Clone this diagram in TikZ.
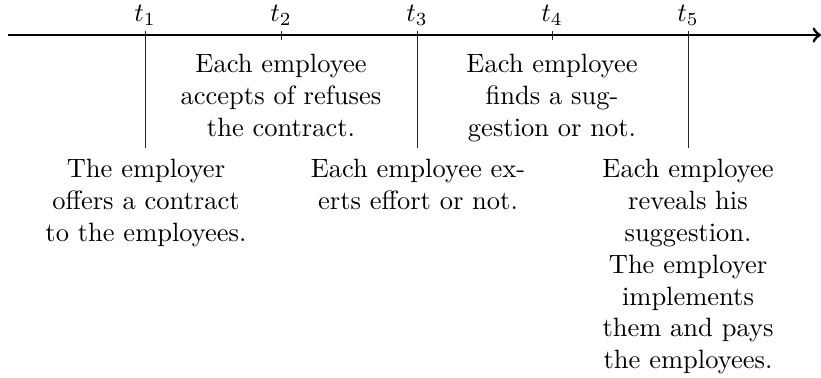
\documentclass[tikz,border=0pt]{standalone}
\begin{document}
\begin{tikzpicture}[x=0.3774pt,y=-0.3774pt,
  axisline/.style={line width=1.1pt,->},
  tickline/.style={line width=0.3pt,black!85},
  lbl/.style={inner sep=0pt,anchor=north,align=center,font=\normalsize}]
\useasboundingbox (0,0) rectangle (821,378);
\coordinate (a0) at (8,35);
\coordinate (a1) at (821,35);
\draw[axisline] (a0) -- (a1);
\foreach \i/\x in {1/145,2/281,3/417,4/552,5/688}{
  \coordinate (u\i) at (\x,31);
  \node[inner sep=0pt,anchor=base] (lt\i) at (\x,22) {$t_\i$};
}
\coordinate (d1) at (145,148);
\coordinate (d2) at (281,40);
\coordinate (d3) at (417,148);
\coordinate (d4) at (552,40);
\coordinate (d5) at (688,148);
\foreach \i in {1,...,5}{\draw[tickline] (u\i) -- (d\i);}
\node[lbl] (n2) at (281,54) {Each employee\\accepts of refuses\\the contract.};
\node[lbl] (n4) at (552,54) {Each employee\\finds a sug-\\gestion or not.};
\node[lbl] (n1) at (146,159) {The employer\\offers a contract\\to the employees.};
\node[lbl] (n3) at (418,159) {Each employee ex-\\erts effort or not.};
\node[lbl] (n5) at (688,159) {Each employee\\reveals his\\suggestion.\\The employer\\implements\\them and pays\\the employees.};
\end{tikzpicture}
\end{document}
